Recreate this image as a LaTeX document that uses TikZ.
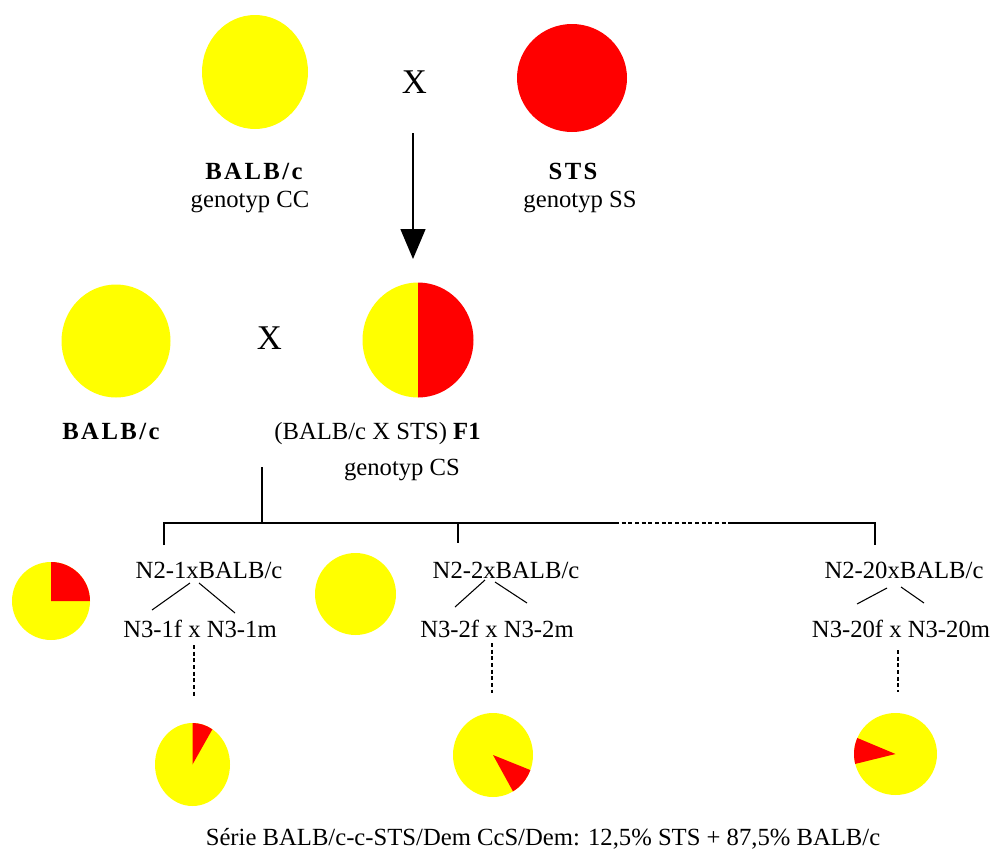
\documentclass[tikz,border=0pt]{standalone}
\usepackage{fontspec}
\setmainfont{Liberation Serif}
\usetikzlibrary{arrows.meta,shapes.geometric}
\definecolor{pieyellow}{RGB}{255,255,0}
\definecolor{piered}{RGB}{255,0,0}
\newcommand{\spbold}[1]{{\bfseries\addfontfeature{LetterSpace=10}#1}}
\begin{document}
\begin{tikzpicture}[x=0.75pt,y=-0.75pt,
  lbl/.style={font=\fontsize{18.5}{20}\selectfont, inner sep=0pt, anchor=base},
  bigx/.style={font=\fontsize{26}{28}\selectfont, inner sep=0pt},
  tree/.style={line width=1.1pt},
  twig/.style={line width=0.8pt},
  dots/.style={line width=1pt, dash pattern=on 3pt off 2pt},
  blob/.style={ellipse, inner sep=0pt, draw=none},
  arrowline/.style={line width=1.1pt, -{Triangle[width=18.75pt,length=22.5pt]}}]
\useasboundingbox (0,0) rectangle (996,853);

% ---- generation P
\node[blob, fill=pieyellow, minimum width=79.5pt, minimum height=85.5pt] (balbP) at (255,72) {};
\node[blob, fill=piered, minimum width=82.5pt, minimum height=81pt] (stsP) at (572,78) {};
\node[bigx] (xtop) at (414.5,82) {X};
\node[lbl] (balbPl) at (254,179) {\spbold{BALB/c}};
\node[lbl] (balbPg) at (250,207) {genotyp CC};
\node[lbl] (stsPl) at (573,179) {\spbold{STS}};
\node[lbl] (stsPg) at (580,207) {genotyp SS};

% ---- generation F1
\node[blob, fill=pieyellow, minimum width=81.75pt, minimum height=84.75pt] (balbB) at (116,341) {};
\node[blob, minimum width=83.25pt, minimum height=86.25pt] (f1) at (418,340) {};
\begin{scope}[shift={(418,340)}, y=0.75pt]
  \fill[pieyellow] (0,0) -- (90:55.5 and 57.5) arc[start angle=90, end angle=270, x radius=55.5, y radius=57.5] -- cycle;
  \fill[piered] (0,0) -- (-90:55.5 and 57.5) arc[start angle=-90, end angle=90, x radius=55.5, y radius=57.5] -- cycle;
\end{scope}
\node[bigx] (xmid) at (269.5,338) {X};
\node[lbl] (balbBl) at (111,439) {\spbold{BALB/c}};
\node[lbl] (f1l) at (377.5,439) {(BALB/c X STS) \textbf{F1}};
\node[lbl] (f1g) at (402,475) {genotyp CS};

\coordinate (arrS) at (413,133);
\coordinate (arrE) at (413,259);
\draw[arrowline] (arrS) -- (arrE);

% ---- tree
\coordinate (t0) at (262,467);
\coordinate (t1) at (262,523);
\coordinate (k1) at (164,545);
\coordinate (h1) at (164,523);
\coordinate (hd1) at (615,523);
\coordinate (hd2) at (730,523);
\coordinate (h3) at (875,523);
\coordinate (k3) at (875,545);
\coordinate (h2) at (458,523);
\coordinate (k2) at (458,543);
\draw[tree] (t0) -- (t1);
\draw[tree] (k1) -- (h1) -- (hd1);
\draw[tree, dash pattern=on 3pt off 2pt] (hd1) -- (hd2);
\draw[tree] (hd2) -- (h3) -- (k3);
\draw[tree] (h2) -- (k2);

% ---- N2 / N3 labels
\node[lbl] (n21) at (209,578) {N2-1xBALB/c};
\node[lbl] (n31) at (200,637) {N3-1f x N3-1m};
\node[lbl] (n22) at (506,578) {N2-2xBALB/c};
\node[lbl] (n32) at (497,637) {N3-2f x N3-2m};
\node[lbl] (n220) at (904,578) {N2-20xBALB/c};
\node[lbl] (n320) at (901,637) {N3-20f x N3-20m};

\coordinate (a1) at (190,583); \coordinate (a1l) at (152,610);
\coordinate (b1) at (199,583); \coordinate (b1r) at (235,613);
\coordinate (a2) at (485,580); \coordinate (a2l) at (455,607);
\coordinate (b2) at (495,582); \coordinate (b2r) at (527,603);
\coordinate (a3) at (887,588); \coordinate (a3l) at (857,604);
\coordinate (b3) at (901,587); \coordinate (b3r) at (924,603);
\draw[twig] (a1) -- (a1l); \draw[twig] (b1) -- (b1r);
\draw[twig] (a2) -- (a2l); \draw[twig] (b2) -- (b2r);
\draw[twig] (a3) -- (a3l); \draw[twig] (b3) -- (b3r);

\coordinate (d1s) at (194,645); \coordinate (d1e) at (194,697);
\coordinate (d2s) at (492,643); \coordinate (d2e) at (492,693);
\coordinate (d3s) at (898,650); \coordinate (d3e) at (898,692);
\draw[dots] (d1s) -- (d1e);
\draw[dots] (d2s) -- (d2e);
\draw[dots] (d3s) -- (d3e);

% ---- N2 pies
\begin{scope}[shift={(51,601)}, y=0.75pt]
  \fill[pieyellow] (0,0) circle[radius=39];
  \fill[piered] (0,0) -- (0:39) arc[start angle=0, end angle=90, radius=39] -- cycle;
\end{scope}
\node[blob, fill=pieyellow, minimum width=60.75pt, minimum height=61.5pt] (n2y) at (355.5,594) {};

% ---- N3 pies
\begin{scope}[shift={(192.5,764.5)}, y=0.75pt]
  \fill[pieyellow] (0,0) ellipse[x radius=37.5, y radius=41.5];
  \fill[piered] (0,0) -- (58:37.5 and 41.5) arc[start angle=58, end angle=90, x radius=37.5, y radius=41.5] -- cycle;
\end{scope}
\begin{scope}[shift={(493,755)}, y=0.75pt]
  \fill[pieyellow] (0,0) ellipse[x radius=40, y radius=42];
  \fill[piered] (0,0) -- (-60:40 and 42) arc[start angle=-60, end angle=-21, x radius=40, y radius=42] -- cycle;
\end{scope}
\begin{scope}[shift={(895.5,754)}, y=0.75pt]
  \fill[pieyellow] (0,0) ellipse[x radius=41.5, y radius=41];
  \fill[piered] (0,0) -- (157:41.5 and 41) arc[start angle=157, end angle=194, x radius=41.5, y radius=41] -- cycle;
\end{scope}

\node[lbl] (serie) at (543,845) {Série BALB/c-c-STS/Dem CcS/Dem: 12,5\% STS + 87,5\% BALB/c};
\end{tikzpicture}
\end{document}
